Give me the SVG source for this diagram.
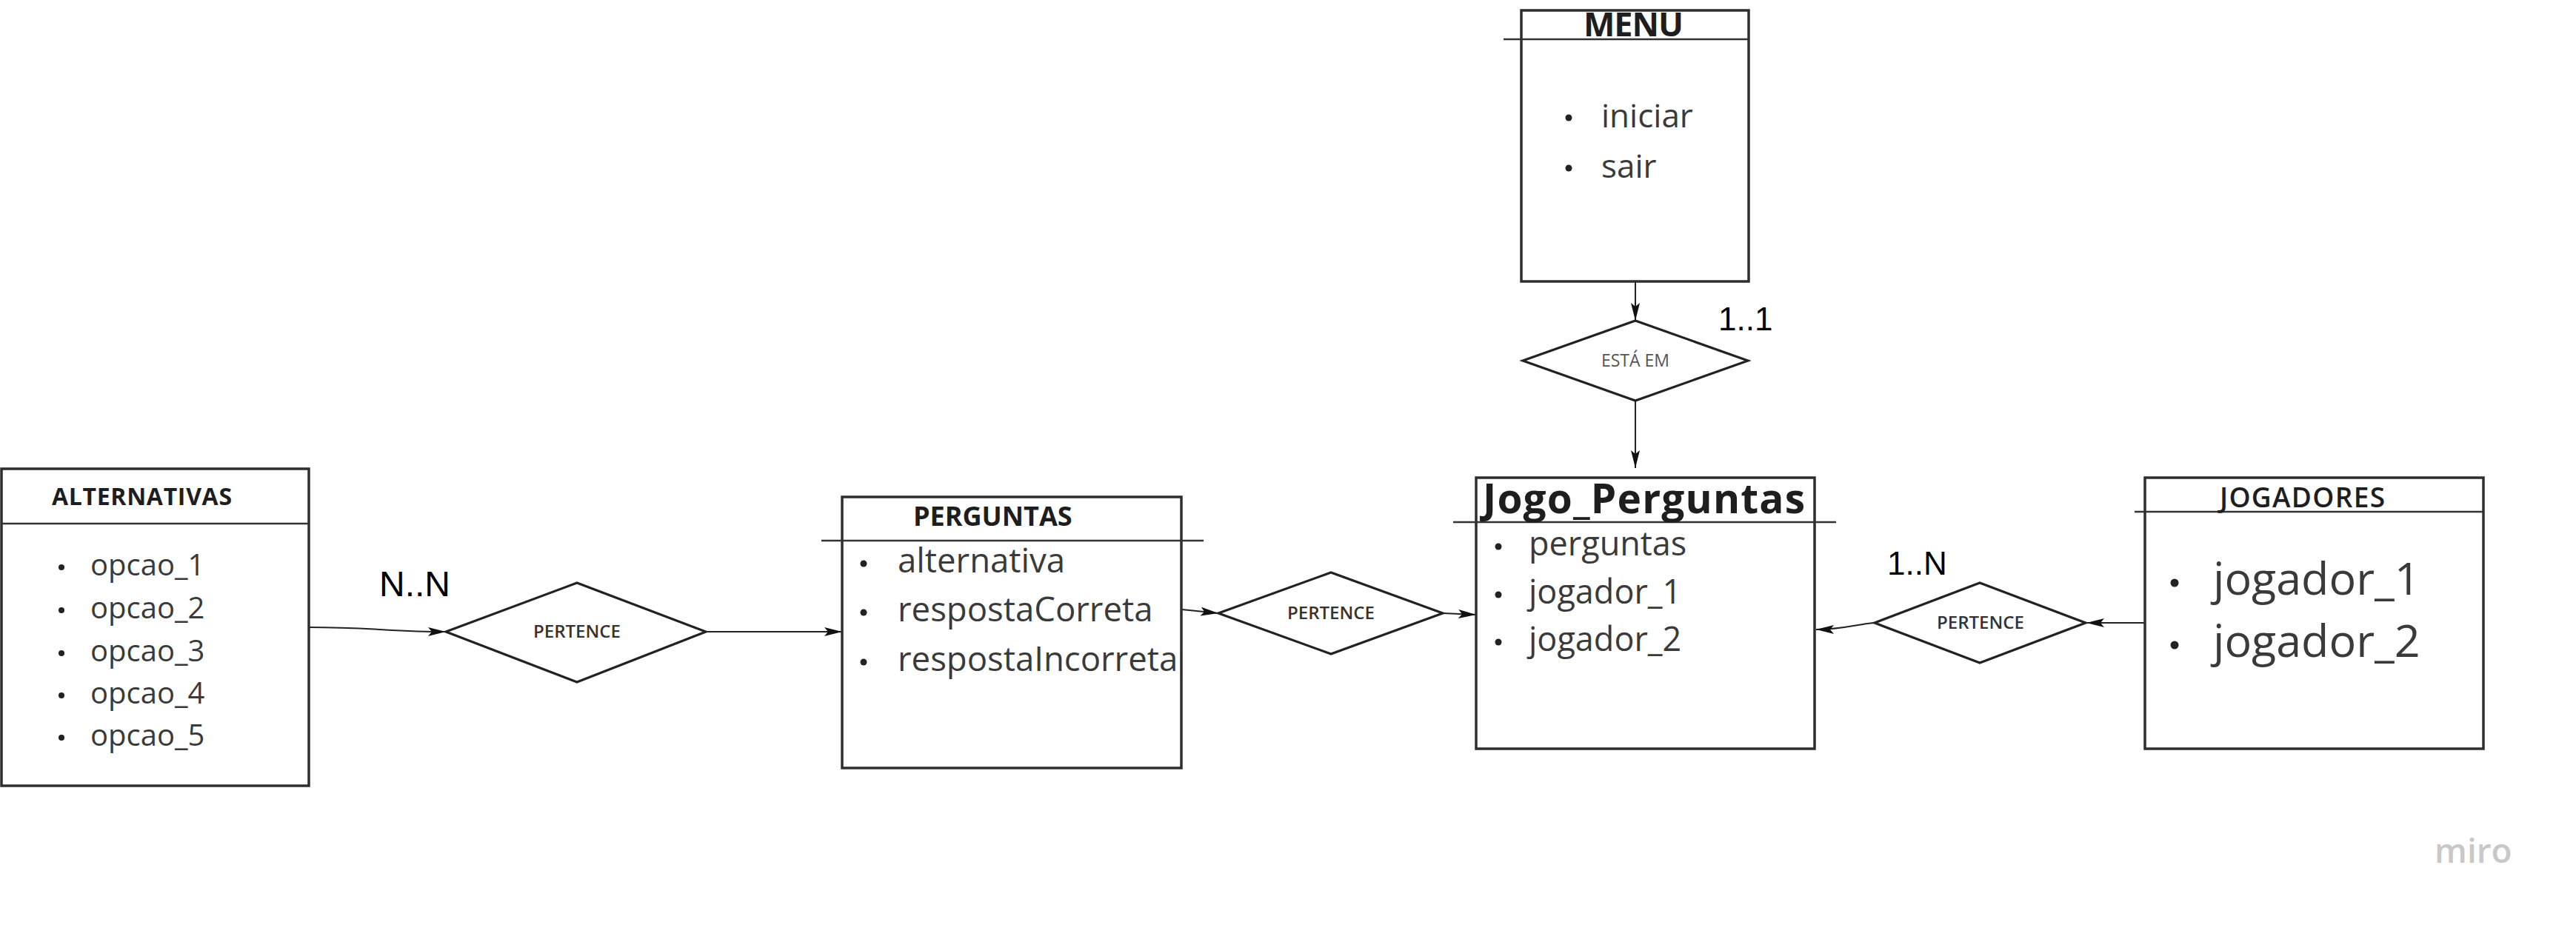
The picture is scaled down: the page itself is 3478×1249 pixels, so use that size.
<svg xmlns="http://www.w3.org/2000/svg" width="3478" height="1249" viewBox="0 0 3478 1249">
<defs>
<style>
.box{fill:#fff;stroke:#2e2e2e;stroke-width:3.5}
.div{stroke:#333;stroke-width:2.5;fill:none}
.dia{fill:#fff;stroke:#222;stroke-width:3.2}
.title{font-family:"Open Sans",sans-serif;font-weight:700;fill:#1e1e1e}
.item{font-family:"Open Sans",sans-serif;font-weight:400;fill:#3a3a3a}
.rel{font-family:"Open Sans",sans-serif;font-weight:600;fill:#333;text-anchor:middle}
.card{font-family:"Liberation Sans",Arial,sans-serif;fill:#000}
.bul{fill:#222}
.con{fill:none;stroke:#222;stroke-width:2}
</style>
<marker id="ah" viewBox="0 0 24 12" refX="24" refY="6" markerWidth="24" markerHeight="12" markerUnits="userSpaceOnUse" orient="auto">
<path d="M0,0 L24,6 L0,12 L5,6 z" fill="#111"/>
</marker>
</defs>
<rect width="3478" height="1249" fill="#fff"/>

<g id="connectors">
<path class="con" d="M417,847 C500,847 530,853 602,853" marker-end="url(#ah)"/>
<path class="con" d="M953,853 L1137,853" marker-end="url(#ah)"/>
<path class="con" d="M1596,823 L1645,828" marker-end="url(#ah)"/>
<path class="con" d="M1948,828 L1993,830" marker-end="url(#ah)"/>
<path class="con" d="M2208,380 L2208,433" marker-end="url(#ah)"/>
<path class="con" d="M2208,541 L2208,632" marker-end="url(#ah)"/>
<path class="con" d="M2896,841 L2817,841" marker-end="url(#ah)"/>
<path class="con" d="M2531,841 C2505,843 2490,850 2452,850" marker-end="url(#ah)"/>
</g>

<g id="alternativas">
<rect class="box" x="2" y="633" width="415" height="428"/>
<line class="div" x1="2" y1="707" x2="417" y2="707"/>
<text class="title" x="70" y="682" font-size="32" textLength="243">ALTERNATIVAS</text>
<g class="item" font-size="40">
<text x="122" y="777">opcao_1</text>
<text x="122" y="835">opcao_2</text>
<text x="122" y="893">opcao_3</text>
<text x="122" y="950">opcao_4</text>
<text x="122" y="1007">opcao_5</text>
</g>
<g class="bul">
<circle cx="83" cy="766" r="4"/><circle cx="83" cy="824" r="4"/><circle cx="83" cy="882" r="4"/><circle cx="83" cy="939" r="4"/><circle cx="83" cy="996" r="4"/>
</g>
</g>

<g id="rel-nn">
<polygon class="dia" points="602,853 779,787 953,853 779,921"/>
<text class="rel" x="779" y="861" font-size="24">PERTENCE</text>
<text class="card" x="512" y="805" font-size="48">N..N</text>
</g>

<g id="perguntas">
<rect class="box" x="1137" y="671" width="458" height="366"/>
<line class="div" x1="1109" y1="730" x2="1625" y2="730"/>
<text class="title" x="1233" y="710" font-size="36">PERGUNTAS</text>
<g class="item" font-size="45.5">
<text x="1212" y="773">alternativa</text>
<text x="1212" y="839">respostaCorreta</text>
<text x="1212" y="906">respostaIncorreta</text>
</g>
<g class="bul">
<circle cx="1166" cy="761" r="4.5"/><circle cx="1166" cy="827" r="4.5"/><circle cx="1166" cy="894" r="4.5"/>
</g>
</g>

<g id="rel-pj">
<polygon class="dia" points="1645,828 1797,773 1948,828 1797,883"/>
<text class="rel" x="1797" y="836" font-size="24">PERTENCE</text>
</g>

<g id="menu">
<rect class="box" x="2054" y="14" width="307" height="366"/>
<line class="div" x1="2030" y1="53" x2="2361" y2="53"/>
<text class="title" x="2138" y="49" font-size="45" textLength="135">MENU</text>
<g class="item" font-size="44">
<text x="2162" y="172">iniciar</text>
<text x="2162" y="240">sair</text>
</g>
<g class="bul">
<circle cx="2118" cy="159" r="4.5"/><circle cx="2118" cy="227" r="4.5"/>
</g>
</g>

<g id="rel-esta">
<polygon class="dia" points="2056,487 2208,433 2360,487 2208,541"/>
<text class="rel" x="2208" y="495" font-size="23" style="font-weight:400;fill:#555">ESTÁ EM</text>
<text class="card" x="2320" y="446" font-size="44">1..1</text>
</g>

<g id="jogo">
<rect class="box" x="1993" y="645" width="457" height="366"/>
<line class="div" x1="1962" y1="705" x2="2479" y2="705"/>
<text class="title" x="2002" y="693" font-size="55" textLength="435">Jogo_Perguntas</text>
<g class="item" font-size="45">
<text x="2064" y="750">perguntas</text>
<text x="2064" y="815">jogador_1</text>
<text x="2064" y="879">jogador_2</text>
</g>
<g class="bul">
<circle cx="2023" cy="738" r="4.5"/><circle cx="2023" cy="803" r="4.5"/><circle cx="2023" cy="867" r="4.5"/>
</g>
</g>

<g id="rel-jj">
<polygon class="dia" points="2531,841 2673,787 2816,841 2673,895"/>
<text class="rel" x="2674" y="849" font-size="24">PERTENCE</text>
<text class="card" x="2548" y="776" font-size="44">1..N</text>
</g>

<g id="jogadores">
<rect class="box" x="2896" y="645" width="457" height="366"/>
<line class="div" x1="2882" y1="691" x2="3353" y2="691"/>
<text class="title" x="2997" y="685" font-size="37" style="font-weight:600" textLength="223">JOGADORES</text>
<g class="item" font-size="61">
<text x="2988" y="803">jogador_1</text>
<text x="2988" y="887">jogador_2</text>
</g>
<g class="bul">
<circle cx="2936" cy="787" r="5.5"/><circle cx="2936" cy="871" r="5.5"/>
</g>
</g>

<text x="3287" y="1165" font-family="Open Sans, sans-serif" font-weight="600" font-size="46" fill="#c8c8c8">miro</text>
</svg>
